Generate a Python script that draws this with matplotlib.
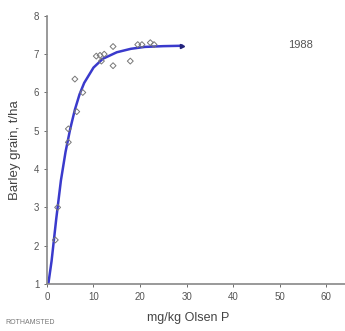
import matplotlib.pyplot as plt

# observed yields (Olsen P mg/kg, grain t/ha)
obs_p = [1.8, 2.3, 4.6, 4.6, 6.4, 6.0, 7.7, 10.6, 11.4, 11.7, 12.3, 14.2, 14.2, 17.9, 19.5, 20.4, 22.2, 23.0]
obs_yield = [2.15, 3.0, 4.7, 5.05, 5.5, 6.35, 6.0, 6.95, 6.97, 6.82, 7.0, 7.2, 6.7, 6.82, 7.25, 7.25, 7.3, 7.25]

# fitted response curve
fit_p = [0.3, 1, 2, 3, 4, 5, 6, 7, 8, 10, 12, 15, 18, 21, 25, 29]
fit_yield = [1.0, 1.6, 2.7, 3.7, 4.45, 5.05, 5.55, 5.95, 6.25, 6.65, 6.88, 7.05, 7.14, 7.19, 7.21, 7.22]

x_ticks = [0, 10, 20, 30, 40, 50, 60]
y_ticks = [1, 2, 3, 4, 5, 6, 7, 8]

plt.rcParams['font.family'] = ['Liberation Sans', 'DejaVu Sans']
fig = plt.figure(figsize=(3.45, 3.31), dpi=100)
ax = fig.add_axes([0.136, 0.142, 0.864, 0.81])

ax.scatter(obs_p, obs_yield, marker='D', s=9, facecolors='none', edgecolors='#777777', linewidths=0.7, zorder=3)
ax.plot(fit_p, fit_yield, '-', color='#3a3acc', linewidth=1.8, zorder=2)
ax.plot(fit_p[-1], fit_yield[-1], marker='>', color='#22227a', markersize=3, zorder=4)

ax.set_xlim(0, 64)
ax.set_ylim(1, 8)
ax.set_xticks(x_ticks)
ax.set_yticks(y_ticks)
ax.tick_params(labelsize=7, colors='#555555', length=2, width=0.6)
for s in ['top', 'right']:
    ax.spines[s].set_visible(False)
for s in ['left', 'bottom']:
    ax.spines[s].set_color('#888888')
    ax.spines[s].set_linewidth(1.2)

ax.set_xlabel('mg/kg Olsen P', fontsize=9, color='#444444')
ax.xaxis.set_label_coords(0.475, -0.105)
ax.set_ylabel('Barley grain, t/ha', fontsize=9.5, color='#444444')
ax.yaxis.set_label_coords(-0.088, 0.5)
ax.text(54.5, 7.25, '1988', fontsize=8, color='#555555', ha='center', va='center')
fig.text(0.015, 0.02, 'ROTHAMSTED', fontsize=5, color='#777777')

fig.savefig('out.png', dpi=100)
